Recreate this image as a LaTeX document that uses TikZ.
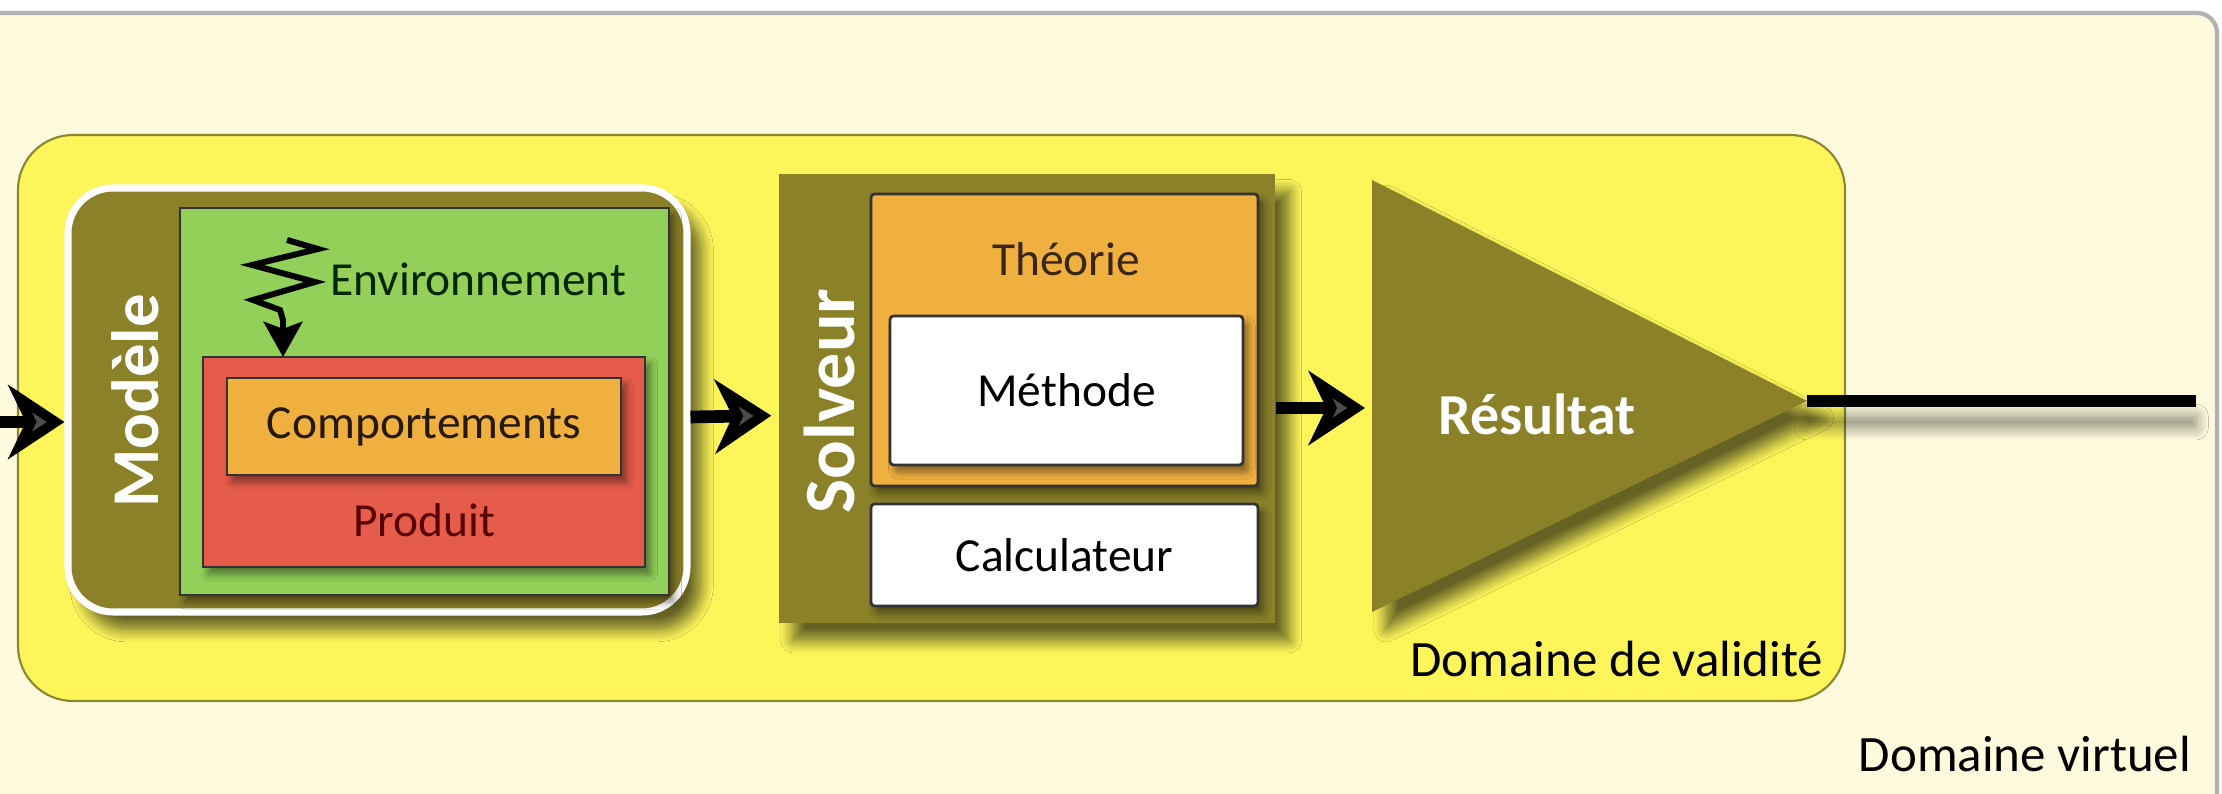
\documentclass[tikz,border=0pt]{standalone}
\usepackage{fontspec}
\setmainfont{Carlito}
\usetikzlibrary{arrows.meta,shadows.blur}

\definecolor{creme}{RGB}{253,250,222}
\definecolor{jaune}{RGB}{253,245,90}
\definecolor{kaki}{RGB}{138,129,41}
\definecolor{vertclair}{RGB}{146,208,90}
\definecolor{rougeprod}{RGB}{229,92,74}
\definecolor{orangeth}{RGB}{240,176,64}

\tikzset{
  ombre/.style={blur shadow={shadow xshift=4pt,shadow yshift=-5pt,shadow blur radius=3.5pt,shadow blur steps=10,shadow opacity=60}},
  ombretrait/.style={blur shadow={shadow xshift=0pt,shadow yshift=-6pt,shadow blur radius=3.5pt,shadow blur steps=10,shadow opacity=45}},
  petiteombre/.style={blur shadow={shadow xshift=1.5pt,shadow yshift=-2pt,shadow blur radius=2pt,shadow blur steps=6,shadow opacity=45}},
  bloc/.style={draw=black!80,line width=0.8pt,inner sep=0pt},
  kakibox/.style={fill=kaki,inner sep=0pt,ombre},
  etiq/.style={font=\fontsize{13.5}{16}\selectfont},
  titre/.style={font=\fontsize{19}{22}\selectfont\bfseries,text=white,rotate=90},
  fleche/.style={-{Stealth[length=16pt,width=21pt,inset=5pt]},line width=3.6pt},
  foudre/.style={-{Stealth[length=10pt,width=11pt,inset=2pt]},line width=1.7pt,line join=miter}
}

\begin{document}
\begin{tikzpicture}
\useasboundingbox (0,0) rectangle (22.22,7.94);
\fill[white] (0,0) rectangle (22.22,7.94);
\draw[fill=creme,draw=gray!60,line width=1.2pt,rounded corners=0.2cm] (-0.3,-0.3) -- (-0.3,7.81) -- (22.17,7.81) -- (22.17,-0.3) -- cycle;

% domaines
\node[fill=jaune,draw=jaune!55!black,line width=0.6pt,rounded corners=0.55cm,minimum width=18.27cm,minimum height=5.66cm] (validite) at (9.315,3.76) {};
\node[font=\fontsize{14.5}{17}\selectfont] (lblvalidite) at (16.17,1.35) {Domaine de validité};
\node[font=\fontsize{14.5}{17}\selectfont] (lblvirtuel) at (20.25,0.40) {Domaine virtuel};

% modele
\node[kakibox,draw=white,line width=2pt,rounded corners=0.45cm,minimum width=6.19cm,minimum height=4.24cm] (modele) at (3.775,3.94) {};
\node[bloc,fill=vertclair,petiteombre,minimum width=4.89cm,minimum height=3.87cm] (envbox) at (4.245,3.925) {};
\node[bloc,fill=rougeprod,petiteombre,minimum width=4.42cm,minimum height=2.10cm] (produit) at (4.24,3.32) {};
\node[bloc,fill=orangeth,petiteombre,etiq,text=black!80!brown,minimum width=3.94cm,minimum height=0.97cm] (comport) at (4.24,3.675) {Comportements};
\node[etiq,text=red!35!black] (lblproduit) at (4.24,2.74) {Produit};
\node[etiq,anchor=west,text=green!15!black] (lblenv) at (3.18,5.15) {Environnement};
\node[titre] (lblmodele) at (1.35,3.93) {Modèle};
\coordinate (eclair) at (2.87,5.54);
\draw[foudre] (eclair) -- (3.18,5.45) -- (2.52,5.29) -- (3.15,5.12) -- (2.53,4.94) -- (2.80,4.84) -- (2.83,4.74) -- (2.83,4.37);

% solveur
\node[kakibox,minimum width=4.96cm,minimum height=4.49cm] (solveur) at (10.27,3.955) {};
\node[bloc,fill=orangeth,petiteombre,rounded corners=1pt,minimum width=3.87cm,minimum height=2.92cm] (theorie) at (10.645,4.54) {};
\node[etiq,text=black!70!brown] (lbltheorie) at (10.66,5.35) {Théorie};
\node[bloc,fill=white,petiteombre,rounded corners=1pt,etiq,minimum width=3.53cm,minimum height=1.49cm] (methode) at (10.665,4.035) {Méthode};
\node[bloc,fill=white,petiteombre,rounded corners=1pt,etiq,minimum width=3.87cm,minimum height=1.02cm] (calcul) at (10.645,2.39) {Calculateur};
\node[titre,font=\fontsize{20.5}{24}\selectfont\bfseries] (lblsolveur) at (8.29,3.93) {Solveur};

% resultat
\fill[kaki,ombre] (13.72,6.14) -- (18.07,3.93) -- (13.72,1.82) -- cycle;
\coordinate (baseres) at (13.72,3.86);
\coordinate (sommet) at (18.07,3.93);
\coordinate (sortie) at (21.96,3.93);
\node[font=\fontsize{16.5}{19}\selectfont\bfseries,text=white] (resultat) at (15.37,3.80) {Résultat};

% liaisons
\coordinate (entree) at (-0.2,3.72);
\draw[fleche] (entree) -- (entree -| modele.west);
\draw[fleche,shorten >=2pt] ([yshift=-0.17cm]modele.east) -- ([yshift=-0.17cm]solveur.west);
\draw[fleche,shorten >=2pt] ([yshift=-0.095cm]solveur.east) -- (baseres);
\fill[black,ombretrait] ([yshift=1.6pt]sommet) rectangle ([yshift=-1.6pt]sortie);
\end{tikzpicture}
\end{document}
